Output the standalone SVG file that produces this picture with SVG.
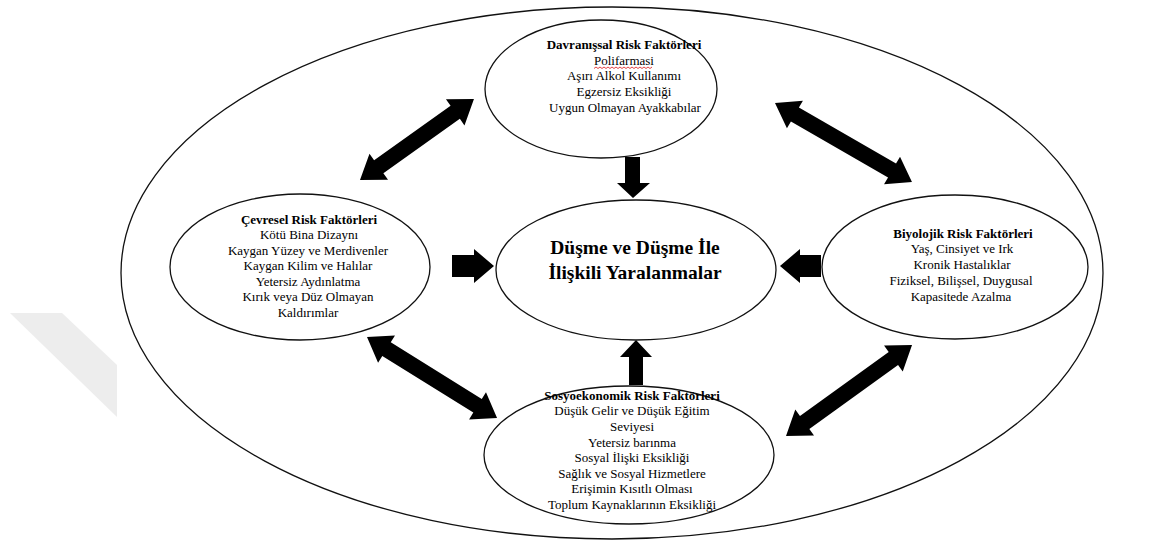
<svg xmlns="http://www.w3.org/2000/svg" width="1155" height="548" viewBox="0 0 1155 548">
<style>
.ell{fill:#fff;stroke:#111;stroke-width:1.3}
.t{font-family:"Liberation Serif","Times New Roman",serif;font-size:13px;fill:#000;text-anchor:middle}
.b{font-weight:bold}
.c{font-family:"Liberation Serif","Times New Roman",serif;font-size:19.5px;font-weight:bold;fill:#000;text-anchor:middle}
.arr{fill:#000}
</style>
<defs>
<polygon id="dbl" points="0,0 0,0"/>
</defs>
<rect width="1155" height="548" fill="#fff"/>
<polygon points="10,313 62,313 117,365 117,417" fill="#ededed"/>
<g id="outer"><ellipse class="ell" cx="612" cy="273" rx="491" ry="266"/></g>

<g id="connectors">
<polygon class="arr" transform="translate(360,180) rotate(-35.4)" points="0,0 23,-16 23,-8 116.8,-8 116.8,-16 139.8,0 116.8,16 116.8,8 23,8 23,16"/>
<polygon class="arr" transform="translate(775,103) rotate(29.97)" points="0,0 23,-16 23,-8 135.1,-8 135.1,-16 158.1,0 135.1,16 135.1,8 23,8 23,16"/>
<polygon class="arr" transform="translate(367,337) rotate(31.9)" points="0,0 23,-16 23,-8 130.2,-8 130.2,-16 153.2,0 130.2,16 130.2,8 23,8 23,16"/>
<polygon class="arr" transform="translate(786,436) rotate(-35.8)" points="0,0 23,-16 23,-8 132.4,-8 132.4,-16 155.4,0 132.4,16 132.4,8 23,8 23,16"/>
<polygon class="arr" points="625,157 640,157 640,183 650,183 633,198 617,183 625,183"/>
<polygon class="arr" points="629,385 643,385 643,357 652,357 636,340 620,357 629,357"/>
<polygon class="arr" points="452,255 474,255 474,249 494,266 474,283 474,277 452,277"/>
<polygon class="arr" points="821,255 800,255 800,249 780,266 800,283 800,277 821,277"/>
</g>

<g id="davranissal">
<ellipse class="ell" cx="601" cy="89" rx="116" ry="69"/>
<text class="t b" x="624" y="48.5">Davranışsal Risk Faktörleri</text>
<text class="t" x="624" y="64.5">Polifarmasi</text>
<path d="M594,68.5 l2,-1.5 l2,1.5 l2,-1.5 l2,1.5 l2,-1.5 l2,1.5 l2,-1.5 l2,1.5 l2,-1.5 l2,1.5 l2,-1.5 l2,1.5 l2,-1.5 l2,1.5 l2,-1.5 l2,1.5 l2,-1.5 l2,1.5 l2,-1.5 l2,1.5 l2,-1.5 l2,1.5 l2,-1.5 l2,1.5 l2,-1.5 l2,1.5 l2,-1.5 l2,1.5 l2,-1.5" fill="none" stroke="#e03030" stroke-width="0.9"/>
<text class="t" x="624" y="80">Aşırı Alkol Kullanımı</text>
<text class="t" x="624" y="95.5">Egzersiz Eksikliği</text>
<text class="t" x="625" y="111.5">Uygun Olmayan Ayakkabılar</text>
</g>

<g id="cevresel">
<ellipse class="ell" cx="300" cy="267" rx="130" ry="73"/>
<text class="t b" x="309" y="223.5">Çevresel Risk Faktörleri</text>
<text class="t" x="309" y="239">Kötü Bina Dizaynı</text>
<text class="t" x="308" y="254.5">Kaygan Yüzey ve Merdivenler</text>
<text class="t" x="308" y="270">Kaygan Kilim ve Halılar</text>
<text class="t" x="308" y="285.5">Yetersiz Aydınlatma</text>
<text class="t" x="308" y="301">Kırık veya Düz Olmayan</text>
<text class="t" x="308" y="316.5">Kaldırımlar</text>
</g>

<g id="merkez">
<ellipse class="ell" cx="636" cy="270" rx="140" ry="70"/>
<text class="c" x="635" y="254">Düşme ve Düşme İle</text>
<text class="c" x="635" y="279">İlişkili Yaralanmalar</text>
</g>

<g id="biyolojik">
<ellipse class="ell" cx="955" cy="267" rx="133" ry="72"/>
<text class="t b" x="963" y="237.5">Biyolojik Risk Faktörleri</text>
<text class="t" x="962" y="253">Yaş, Cinsiyet ve Irk</text>
<text class="t" x="962" y="268.5">Kronik Hastalıklar</text>
<text class="t" x="961" y="284.5">Fiziksel, Bilişsel, Duygusal</text>
<text class="t" x="961" y="300.5">Kapasitede Azalma</text>
</g>

<g id="sosyoekonomik">
<ellipse class="ell" cx="629" cy="455" rx="145" ry="69"/>
<text class="t b" x="632" y="399.5">Sosyoekonomik Risk Faktörleri</text>
<text class="t" x="632" y="415">Düşük Gelir ve Düşük Eğitim</text>
<text class="t" x="632" y="431">Seviyesi</text>
<text class="t" x="632" y="446.5">Yetersiz barınma</text>
<text class="t" x="632" y="462">Sosyal İlişki Eksikliği</text>
<text class="t" x="632" y="477.5">Sağlık ve Sosyal Hizmetlere</text>
<text class="t" x="632" y="493">Erişimin Kısıtlı Olması</text>
<text class="t" x="632" y="509">Toplum Kaynaklarının Eksikliği</text>
</g>
</svg>
